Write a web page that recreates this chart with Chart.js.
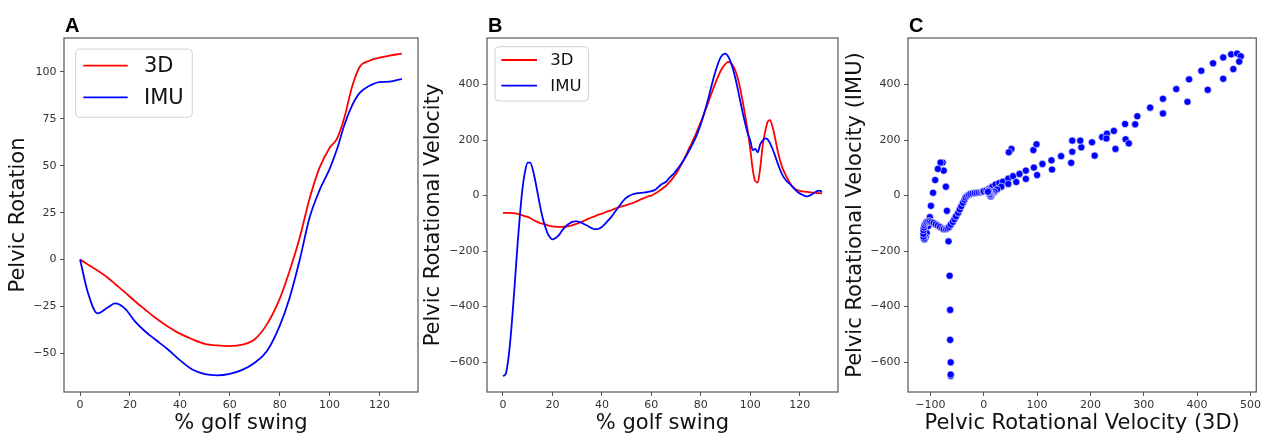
<!DOCTYPE html>
<html>
<head>
<meta charset="utf-8">
<title>Pelvic rotation: 3D vs IMU</title>
<script src="https://cdn.jsdelivr.net/npm/chart.js@4.4.1/dist/chart.umd.min.js"></script>
<style>
  body { margin: 0; background: #fff; }
  #wrap { position: relative; width: 1264px; height: 435px; overflow: hidden; }
  .panel { position: absolute; top: 0; height: 435px; }
  .panel canvas { display: block; }
  .tag { position: absolute; top: 15px; font: bold 20px "Liberation Sans", Arial, sans-serif; line-height: 20px; color: #000; }
</style>
</head>
<body>
<div id="wrap">
  <div class="panel" style="left:0;width:420px"><canvas id="chartA" width="420" height="435"></canvas></div>
  <div class="panel" style="left:420px;width:420px"><canvas id="chartB" width="420" height="435"></canvas></div>
  <div class="panel" style="left:840px;width:424px"><canvas id="chartC" width="424" height="435"></canvas></div>
  <div class="tag" style="left:65px">A</div>
  <div class="tag" style="left:488px">B</div>
  <div class="tag" style="left:909px">C</div>
</div>
<script>
// Panel A: pelvic rotation, sampled along the swing
const swingA = [0, 3, 7, 11, 14, 18, 22, 26, 30, 35, 40, 45, 50, 55, 60, 65, 70, 75, 80, 84, 88, 92, 96, 100, 103, 106, 109, 112, 116, 120, 124, 129];
const rot3D = [0, -2.5, -5.9, -9.6, -13, -17.5, -22.2, -26.6, -30.9, -35.5, -39.5, -42.5, -44.9, -45.8, -46.1, -45.4, -42.5, -34.3, -21, -6, 11.5, 32.5, 49, 59.5, 64.5, 76, 92, 102.5, 106, 107.6, 108.7, 109.8];
const rotIMU = [0, -17, -28.7, -25.6, -23.4, -26.2, -33, -38.2, -42.5, -47.7, -53.6, -58.6, -61.1, -61.7, -60.9, -58.8, -55, -48.6, -35.4, -20.3, -0.4, 22.4, 37, 48.2, 58.9, 72, 82, 88.7, 92.6, 94.6, 94.8, 96.3];

// Panels B and C: pelvic rotational velocity at every % of the swing
const swingPct = [
  0, 1, 2, 3, 4, 5, 6, 7, 8, 9, 10, 11, 12, 13, 14, 15, 16, 17, 18, 19,
  20, 21, 22, 23, 24, 25, 26, 27, 28, 29, 30, 31, 32, 33, 34, 35, 36, 37, 38, 39,
  40, 41, 42, 43, 44, 45, 46, 47, 48, 49, 50, 51, 52, 53, 54, 55, 56, 57, 58, 59,
  60, 61, 62, 63, 64, 65, 66, 67, 68, 69, 70, 71, 72, 73, 74, 75, 76, 77, 78, 79,
  80, 81, 82, 83, 84, 85, 86, 87, 88, 89, 90, 91, 92, 93, 94, 95, 96, 97, 98, 99,
  100, 101, 102, 103, 104, 105, 106, 107, 108, 109, 110, 111, 112, 113, 114, 115, 116, 117, 118, 119,
  120, 121, 122, 123, 124, 125, 126, 127, 128, 129
];
const vel3D = [
  -62, -62, -62, -63, -63, -64, -66, -69, -71, -75, -77, -81, -86, -91, -95, -99, -101,
  -104, -107, -109, -111, -112, -113, -113, -113, -112, -111, -109, -107, -104, -101, -98, -94, -90, -86, -82, -78, -75, -71, -68, -65,
  -62, -58, -55, -52, -48, -45, -42, -39, -36, -34, -31, -28, -25, -21, -17, -13, -9, -5, -2,
  0, 5, 10, 16, 22, 29,
  36, 46, 55, 67, 79, 94, 110, 127, 145, 166, 183, 203, 222, 244, 265, 288, 312, 336, 361, 385, 408, 430, 449, 464, 475,
  482, 479, 468, 449, 420, 382, 336, 284,
  231, 166, 93, 52, 47, 99, 181, 230, 266, 272, 247, 208, 164, 128, 100, 79, 61, 46, 33,
  25, 20, 17, 15, 14, 13, 12, 11, 10, 9, 9, 8
];
const velIMU = [
  -650, -645, -601, -520, -412, -289, -165, -55, 32, 90, 119, 119, 96, 56, 10, -37, -78,
  -110, -135, -150, -158, -155, -148, -138, -125, -115, -106, -100, -95, -93, -93, -96, -99, -104, -108, -113, -118, -121, -121, -118, -113,
  -105, -95, -85, -75, -62, -50, -38, -26, -15, -7, -1, 3, 6, 8, 9, 10, 11, 12, 14,
  16, 19, 24, 32, 40, 45,
  50, 61, 70, 78, 90, 101, 114, 127, 142, 158, 174, 192, 211, 233, 258, 286, 317, 349, 384, 419, 450, 477, 498, 509, 512,
  502, 483, 456, 421, 381, 338, 296, 257,
  223, 198, 164, 168, 156, 185, 198, 206, 203, 188, 168, 144, 118, 94, 74, 60, 49, 42, 32,
  22, 14, 8, 3, -1, -3, 0, 5, 11, 16, 18, 14
];

const RED = '#ff0000';
const BLUE = '#0000ff';
const FONT = '"DejaVu Sans", Verdana, sans-serif';

function pairs(xs, ys) {
  return xs.map((x, i) => ({ x: x, y: ys[i] }));
}

// matplotlib style minus sign
const minus = v => String(v).replace('-', '\u2212');

function xAxis(min, max, step, text) {
  return {
    type: 'linear', min: min, max: max,
    ticks: { stepSize: step, includeBounds: false, autoSkip: false, maxRotation: 0, padding: 3,
             color: '#333', font: { family: FONT, size: 11 }, callback: v => minus(v) },
    grid: { display: true, drawOnChartArea: false, drawTicks: true, tickLength: 4, color: '#555' },
    border: { display: false },
    title: { display: true, text: text, color: '#111', padding: 0,
             font: { family: FONT, size: 21, lineHeight: 1.1 } },
    afterFit: s => { s.height = 43; }
  };
}

function yAxis(min, max, step, text, width, titlePad) {
  return {
    type: 'linear', min: min, max: max,
    ticks: { stepSize: step, includeBounds: false, autoSkip: false, padding: 3.5,
             color: '#333', font: { family: FONT, size: 11 }, callback: v => minus(v) },
    grid: { display: true, drawOnChartArea: false, drawTicks: true, tickLength: 4, color: '#555' },
    border: { display: false },
    title: { display: true, text: text, color: '#111', padding: { top: titlePad, bottom: 0 },
             font: { family: FONT, size: 21, lineHeight: 1.1 } },
    afterFit: s => { s.width = width; }
  };
}

// frame around the axes plus a legend box inside the plot
const frameLegend = {
  id: 'frameLegend',
  afterDatasetsDraw(chart, args, opts) {
    const a = chart.chartArea;
    const ctx = chart.ctx;
    ctx.save();
    ctx.strokeStyle = '#555';
    ctx.lineWidth = 1.2;
    ctx.strokeRect(a.left, a.top, a.right - a.left, a.bottom - a.top);
    const lg = opts.box;
    if (lg) {
      const bx = a.left + lg.x, by = a.top + lg.y;
      ctx.beginPath();
      ctx.roundRect(bx, by, lg.w, lg.h, 4);
      ctx.fillStyle = 'rgba(255,255,255,0.85)';
      ctx.fill();
      ctx.strokeStyle = '#d2d2d2';
      ctx.lineWidth = 1;
      ctx.stroke();
      chart.data.datasets.forEach((ds, i) => {
        const y = by + lg.row0 + i * lg.rowGap;
        ctx.beginPath();
        ctx.moveTo(bx + lg.lineX, y);
        ctx.lineTo(bx + lg.lineX + lg.lineLen, y);
        ctx.strokeStyle = ds.borderColor;
        ctx.lineWidth = 1.8;
        ctx.stroke();
        ctx.fillStyle = '#111';
        ctx.font = lg.size + 'px ' + FONT;
        ctx.textBaseline = 'middle';
        ctx.textAlign = 'left';
        ctx.fillText(ds.label, bx + lg.textX, y + 1);
      });
    }
    ctx.restore();
  }
};

function lineSet(label, xs, ys, color, order) {
  return {
    label: label, data: pairs(xs, ys), borderColor: color, backgroundColor: color,
    borderWidth: 1.8, pointRadius: 0, fill: false, cubicInterpolationMode: 'monotone', order: order
  };
}

function baseOptions(padRight, scales, box) {
  return {
    responsive: false, animation: false, devicePixelRatio: 1,
    layout: { padding: { top: 38, right: padRight, bottom: 0, left: 0 } },
    plugins: { legend: { display: false }, tooltip: { enabled: false }, frameLegend: { box: box } },
    scales: scales
  };
}

new Chart(document.getElementById('chartA'), {
  type: 'line',
  data: { datasets: [lineSet('3D', swingA, rot3D, RED, 2), lineSet('IMU', swingA, rotIMU, BLUE, 1)] },
  options: baseOptions(2, {
    x: xAxis(-6.45, 135.45, 20, '% golf swing'),
    y: yAxis(-70.6, 118.1, 25, 'Pelvic Rotation', 64, 6.7)
  }, { x: 11.7, y: 11, w: 116.6, h: 68.3, row0: 16.7, rowGap: 31.6, lineX: 7.6, lineLen: 44.4, textX: 68.3, size: 21 }),
  plugins: [frameLegend]
});

new Chart(document.getElementById('chartB'), {
  type: 'line',
  data: { datasets: [lineSet('3D', swingPct, vel3D, RED, 2), lineSet('IMU', swingPct, velIMU, BLUE, 1)] },
  options: baseOptions(2, {
    x: xAxis(-6.45, 135.45, 20, '% golf swing'),
    y: yAxis(-708, 568, 200, 'Pelvic Rotational Velocity', 67, 2)
  }, { x: 8, y: 8.7, w: 93.6, h: 54.3, row0: 13.3, rowGap: 25.7, lineX: 6.3, lineLen: 35.7, textX: 55.3, size: 16.5 }),
  plugins: [frameLegend]
});

new Chart(document.getElementById('chartC'), {
  type: 'scatter',
  data: {
    datasets: [{
      label: 'IMU vs 3D', data: pairs(vel3D, velIMU),
      backgroundColor: BLUE, borderColor: '#ffffff', borderWidth: 0.6, pointRadius: 3.6
    }]
  },
  options: baseOptions(6, {
    x: xAxis(-142, 511, 100, 'Pelvic Rotational Velocity (3D)'),
    y: yAxis(-708, 568, 200, 'Pelvic Rotational Velocity (IMU)', 68, 3.5)
  }, null),
  plugins: [frameLegend]
});
</script>
</body>
</html>
